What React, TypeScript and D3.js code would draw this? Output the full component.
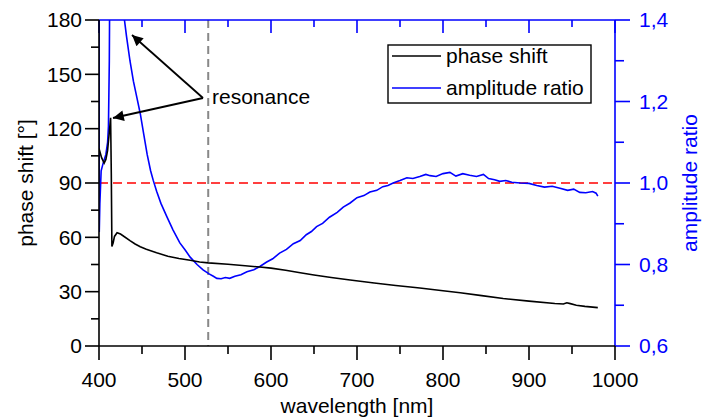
import React from "react";
import * as d3 from "d3";

const phaseData: [number, number][] = [
  [400, 109], [403, 104], [406, 101], [408, 103], [410, 108], [412, 118], [413.5, 126],
  [414.3, 95], [415, 55], [416.5, 57], [418, 60.5], [421, 62.5], [425, 61.8], [430, 60.2],
  [436, 58.2], [442, 56.3], [448, 54.8], [455, 53.4], [467, 51.5], [480, 49.6], [493, 48.3],
  [506, 47.3], [517, 46.4], [527, 45.9], [550, 45.1], [570, 44.3], [587, 43.6], [600, 43],
  [617, 41.8], [634, 40.4], [650, 39.2], [670, 37.8], [692, 36.4], [720, 34.8], [745, 33.4],
  [762, 32.6], [773, 32], [800, 30.5], [820, 29.4], [845, 27.8], [870, 26.2], [900, 24.8],
  [930, 23.5], [940, 23.2], [944, 23.9], [948, 23.4], [955, 22.5], [965, 21.9], [980, 21.2],
];

const ampData: [number, number][] = [
  [400, 1.6], [400.3, 0.88], [401, 0.95], [402.5, 1.03], [405, 1.05], [408, 1.07], [410, 1.1],
  [411, 1.14], [412, 1.3], [412.8, 1.6], [420, 1.9], [426, 1.7], [429, 1.41], [432, 1.36],
  [436, 1.3], [440, 1.25], [444, 1.21], [448, 1.17], [452, 1.12], [456, 1.07], [460, 1.03],
  [463, 1.007], [467, 0.98], [472, 0.95], [479, 0.917], [486, 0.885], [494, 0.853], [500, 0.836],
  [506, 0.818], [514, 0.8], [521, 0.787], [528, 0.777], [533, 0.771], [537, 0.766], [542, 0.765],
  [547, 0.768], [552, 0.766], [558, 0.771], [565, 0.775], [572, 0.782], [580, 0.787], [587, 0.795],
  [595, 0.806], [602, 0.814], [610, 0.828], [618, 0.837], [626, 0.851], [634, 0.859], [641, 0.873],
  [647, 0.881], [653, 0.893], [660, 0.901], [668, 0.916], [677, 0.928], [684, 0.941], [692, 0.951],
  [700, 0.964], [708, 0.969], [715, 0.978], [723, 0.982], [730, 0.991], [736, 0.994], [742, 1.0],
  [750, 1.006], [758, 1.013], [765, 1.011], [773, 1.016], [780, 1.021], [785, 1.018], [792, 1.016],
  [800, 1.023], [808, 1.026], [815, 1.017], [823, 1.023], [831, 1.019], [839, 1.016], [847, 1.021],
  [853, 1.011], [860, 1.008], [866, 1.004], [873, 1.006], [880, 1.002], [890, 1.0], [900, 0.999],
  [909, 0.994], [918, 0.99], [927, 0.992], [936, 0.987], [945, 0.982], [952, 0.985], [959, 0.977],
  [966, 0.976], [974, 0.979], [978, 0.975], [980, 0.968],
];

const xTicks = [400, 500, 600, 700, 800, 900, 1000];
const xMinor = [450, 550, 650, 750, 850, 950];
const leftTicks = [0, 30, 60, 90, 120, 150, 180];
const leftMinor = [15, 45, 75, 105, 135, 165];
const rightTicks = [0.6, 0.8, 1.0, 1.2, 1.4];
const rightMinor = [0.7, 0.9, 1.1, 1.3];
const resonanceWavelength = 527;
const referencePhase = 90;
const legendItems = [
  { label: "phase shift", color: "#000000" },
  { label: "amplitude ratio", color: "#0000ff" },
];

export default function App() {
  const W = 702, H = 419;
  const L = 99, R = 615, T = 20, B = 346;
  const x = d3.scaleLinear().domain([400, 1000]).range([L, R]);
  const yL = d3.scaleLinear().domain([0, 180]).range([B, T]);
  const yR = d3.scaleLinear().domain([0.6, 1.4]).range([B, T]);
  const phaseLine = d3.line<[number, number]>().x(d => x(d[0])).y(d => yL(d[1]));
  const ampLine = d3.line<[number, number]>().x(d => x(d[0])).y(d => yR(d[1]));
  const font = "'Liberation Sans', Arial, sans-serif";
  const fs = 21;
  const blue = "#0000ff";

  return (
    <svg width={W} height={H} style={{ position: "absolute", left: 0, top: 0, background: "#fff" }} fontFamily={font}>
      <defs>
        <clipPath id="plot"><rect x={L} y={T} width={R - L} height={B - T} /></clipPath>
        <marker id="arr" viewBox="0 0 10 10" refX="10" refY="5" markerWidth="8" markerHeight="6" markerUnits="strokeWidth" orient="auto">
          <path d="M0,0 L10,5 L0,10 z" fill="#000" />
        </marker>
      </defs>
      <g clipPath="url(#plot)">
        <line x1={L} x2={R} y1={yR(1.0)} y2={yR(1.0)} stroke="#ff0000" strokeWidth={1.6} strokeDasharray="9,5" />
        <line x1={x(resonanceWavelength)} x2={x(resonanceWavelength)} y1={T} y2={B} stroke="#888" strokeWidth={2} strokeDasharray="8,5" />
        <path d={ampLine(ampData) || ""} fill="none" stroke={blue} strokeWidth={1.6} />
        <path d={phaseLine(phaseData) || ""} fill="none" stroke="#000" strokeWidth={1.6} />
      </g>
      {/* top axis */}
      <line x1={L} x2={R} y1={T} y2={T} stroke={blue} strokeWidth={1.6} />
      {xTicks.map(t => <line key={"tt" + t} x1={x(t)} x2={x(t)} y1={T} y2={T + 13} stroke={blue} strokeWidth={1.6} />)}
      {xMinor.map(t => <line key={"tm" + t} x1={x(t)} x2={x(t)} y1={T} y2={T + 7} stroke={blue} strokeWidth={1.6} />)}
      {/* right axis */}
      <line x1={R} x2={R} y1={T} y2={B} stroke={blue} strokeWidth={1.6} />
      {rightTicks.map(t => <line key={"rt" + t} x1={R} x2={R + 15} y1={yR(t)} y2={yR(t)} stroke={blue} strokeWidth={1.6} />)}
      {rightMinor.map(t => <line key={"rm" + t} x1={R} x2={R + 9} y1={yR(t)} y2={yR(t)} stroke={blue} strokeWidth={1.6} />)}
      {rightTicks.map(t => (
        <text key={"rl" + t} x={R + 24} y={yR(t)} dy="0.35em" fontSize={fs} fill={blue}>
          {t.toFixed(1).replace(".", ",")}
        </text>
      ))}
      <text transform={`translate(${690},${(T + B) / 2}) rotate(-90)`} textAnchor="middle" dy="0.35em" fontSize={fs} fill={blue}>amplitude ratio</text>
      {/* bottom axis */}
      <line x1={L} x2={R} y1={B} y2={B} stroke="#000" strokeWidth={1.6} />
      {xTicks.map(t => <line key={"bt" + t} x1={x(t)} x2={x(t)} y1={B} y2={B + 14} stroke="#000" strokeWidth={1.6} />)}
      {xMinor.map(t => <line key={"bm" + t} x1={x(t)} x2={x(t)} y1={B} y2={B + 8} stroke="#000" strokeWidth={1.6} />)}
      {xTicks.map(t => (
        <text key={"bl" + t} x={x(t)} y={387} textAnchor="middle" fontSize={fs} fill="#000">{t}</text>
      ))}
      <text x={(L + R) / 2} y={413} textAnchor="middle" fontSize={fs} fill="#000">wavelength [nm]</text>
      {/* left axis */}
      <line x1={L} x2={L} y1={T} y2={B} stroke="#000" strokeWidth={1.6} />
      {leftTicks.map(t => <line key={"lt" + t} x1={L - 14} x2={L} y1={yL(t)} y2={yL(t)} stroke="#000" strokeWidth={1.6} />)}
      {leftMinor.map(t => <line key={"lm" + t} x1={L - 8} x2={L} y1={yL(t)} y2={yL(t)} stroke="#000" strokeWidth={1.6} />)}
      {leftTicks.map(t => (
        <text key={"ll" + t} x={82} y={yL(t)} dy="0.35em" textAnchor="end" fontSize={fs} fill="#000">{t}</text>
      ))}
      <text transform={`translate(${26},${(T + B) / 2}) rotate(-90)`} textAnchor="middle" dy="0.35em" fontSize={fs} fill="#000">phase shift [°]</text>
      {/* legend */}
      <rect x={388} y={45} width={203} height={58} fill="#fff" stroke="#000" strokeWidth={1.4} />
      {legendItems.map((it, i) => (
        <g key={it.label}>
          <line x1={392} x2={441} y1={56 + i * 32} y2={56 + i * 32} stroke={it.color} strokeWidth={1.6} />
          <text x={446} y={56 + i * 32} dy="0.35em" fontSize={fs} fill="#000">{it.label}</text>
        </g>
      ))}
      {/* annotation */}
      <line x1={203} y1={98} x2={132} y2={35} stroke="#000" strokeWidth={1.8} markerEnd="url(#arr)" />
      <line x1={203} y1={98} x2={113} y2={118} stroke="#000" strokeWidth={1.8} markerEnd="url(#arr)" />
      <text x={212} y={104} fontSize={fs} fill="#000">resonance</text>
    </svg>
  );
}
